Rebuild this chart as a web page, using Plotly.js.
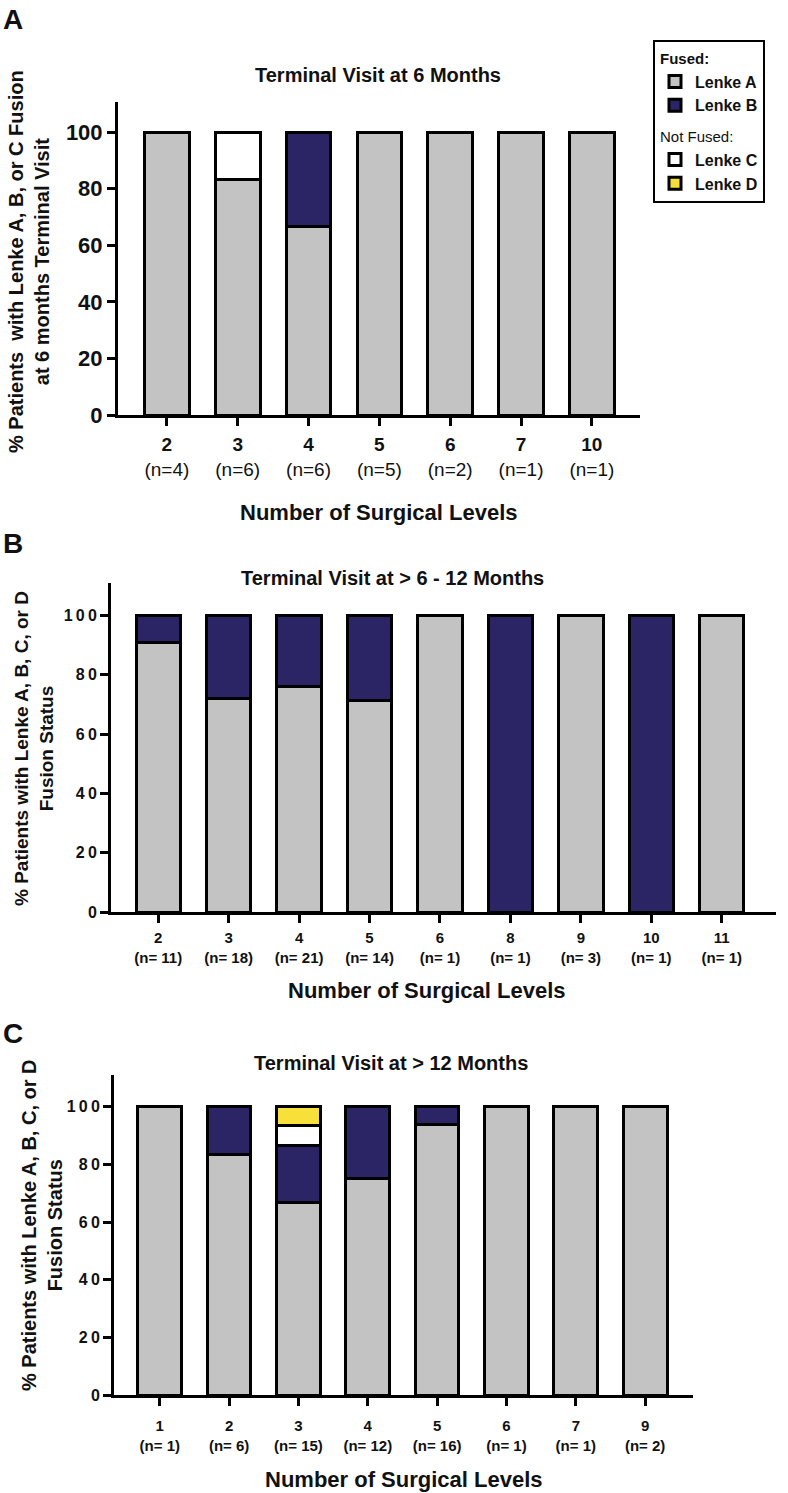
<!DOCTYPE html>
<html>
<head>
<meta charset="utf-8">
<script src="https://cdn.plot.ly/plotly-3.0.1.min.js"></script>
<style>html,body{margin:0;padding:0;background:#fff;} #chart{width:788px;height:1493px;}</style>
</head>
<body>
<div id="chart"></div>
<script>
// ---------- Data ----------
// Panel A: Terminal visit at 6 months
const levelsA = ["2", "3", "4", "5", "6", "7", "10"];
const nA = [4, 6, 6, 5, 2, 1, 1];
const lenkeA_A = [100, 83.3, 66.7, 100, 100, 100, 100];
const lenkeB_A = [0, 0, 33.3, 0, 0, 0, 0];
const lenkeC_A = [0, 16.7, 0, 0, 0, 0, 0];
const lenkeD_A = [0, 0, 0, 0, 0, 0, 0];

// Panel B: Terminal visit at > 6 - 12 months
const levelsB = ["2", "3", "4", "5", "6", "8", "9", "10", "11"];
const nB = [11, 18, 21, 14, 1, 1, 3, 1, 1];
const lenkeA_B = [90.9, 72.2, 76.2, 71.4, 100, 0, 100, 0, 100];
const lenkeB_B = [9.1, 27.8, 23.8, 28.6, 0, 100, 0, 100, 0];
const lenkeC_B = [0, 0, 0, 0, 0, 0, 0, 0, 0];
const lenkeD_B = [0, 0, 0, 0, 0, 0, 0, 0, 0];

// Panel C: Terminal visit at > 12 months
const levelsC = ["1", "2", "3", "4", "5", "6", "7", "9"];
const nC = [1, 6, 15, 12, 16, 1, 1, 2];
const lenkeA_C = [100, 83.3, 66.7, 75, 93.8, 100, 100, 100];
const lenkeB_C = [0, 16.7, 20, 25, 6.2, 0, 0, 0];
const lenkeC_C = [0, 0, 6.7, 0, 0, 0, 0, 0];
const lenkeD_C = [0, 0, 6.6, 0, 0, 0, 0, 0];

const yTicks = [0, 20, 40, 60, 80, 100];

// ---------- Styling ----------
const W = 788, H = 1493;
const FONT = "Arial, 'Liberation Sans', Helvetica, sans-serif";
const colors = {A: "#c3c3c3", B: "#2b2566", C: "#ffffff", D: "#f7e03a"};
const names = {A: "Lenke A", B: "Lenke B", C: "Lenke C", D: "Lenke D"};
const groups = {A: "fused", B: "fused", C: "notfused", D: "notfused"};
const groupTitles = {fused: "<b>Fused:</b>", notfused: "Not Fused:"};

function px2x(p) { return p / W; }
function px2y(p) { return 1 - p / H; }

function nz(arr) { return arr.map(v => (v === 0 ? null : v)); }

const traces = [];
function addPanel(levels, series, xa, ya, showLegend) {
  ["A", "B", "C", "D"].forEach(k => {
    traces.push({
      type: "bar",
      x: levels,
      y: nz(series[k]),
      name: names[k],
      xaxis: xa, yaxis: ya,
      legendgroup: groups[k],
      legendgrouptitle: {text: groupTitles[groups[k]], font: {family: FONT, size: 15, color: "#111"}},
      showlegend: showLegend,
      marker: {color: colors[k], line: {color: "#000", width: 3}},
      hoverinfo: "skip"
    });
  });
}
addPanel(levelsA, {A: lenkeA_A, B: lenkeB_A, C: lenkeC_A, D: lenkeD_A}, "x", "y", true);
addPanel(levelsB, {A: lenkeA_B, B: lenkeB_B, C: lenkeC_B, D: lenkeD_B}, "x2", "y2", false);
addPanel(levelsC, {A: lenkeA_C, B: lenkeB_C, C: lenkeC_C, D: lenkeD_C}, "x3", "y3", false);

function xAxis(levels, n, domainPx, range, boldN, size, sep, standoff) {
  return {
    domain: [px2x(domainPx[0]), px2x(domainPx[1])],
    type: "category",
    range: range,
    showline: true, linecolor: "#000", linewidth: 3,
    ticks: "outside", ticklen: 8, tickwidth: 3, tickcolor: "#000",
    ticklabelstandoff: standoff,
    tickvals: levels,
    ticktext: levels.map((l, i) => boldN ? `<b>${l}<br>(n=${sep}${n[i]})</b>` : `<b>${l}</b><br>(n=${n[i]})`),
    tickfont: {family: FONT, size: size, color: "#111"},
    showgrid: false, zeroline: false, fixedrange: true
  };
}
function yAxis(domainPx, top, size, spaced) {
  return {
    domain: [px2y(domainPx[1]), px2y(domainPx[0])],
    range: [0, top],
    showline: true, linecolor: "#000", linewidth: 3,
    ticks: "outside", ticklen: 8, tickwidth: 3, tickcolor: "#000",
    tickvals: yTicks,
    ticktext: yTicks.map(v => "<b>" + (spaced ? String(v).split("").join("\u2009") : String(v)) + "</b>"),
    tickfont: {family: FONT, size: size, color: "#111"},
    showgrid: false, zeroline: false, fixedrange: true
  };
}

const ann = [];
function text(t, xp, yp, size, opts) {
  ann.push(Object.assign({
    text: t, xref: "paper", yref: "paper", x: px2x(xp), y: px2y(yp),
    xanchor: "center", yanchor: "middle", showarrow: false,
    font: {family: FONT, size: size, color: "#111"}
  }, opts || {}));
}
// Panel letters
text("<b>A</b>", 13, 20, 28);
text("<b>B</b>", 13, 543, 28);
text("<b>C</b>", 13, 1033, 28);
// Titles
text("<b>Terminal Visit at 6 Months</b>", 378, 75, 20);
text("<b>Terminal Visit at > 6 - 12 Months</b>", 392, 578, 20);
text("<b>Terminal Visit at > 12 Months</b>", 391, 1063, 20);
// X titles
text("<b>Number of Surgical Levels</b>", 379, 512, 22);
text("<b>Number of Surgical Levels</b>", 427, 990, 22);
text("<b>Number of Surgical Levels</b>", 404, 1479, 22);
// Y titles
text("<b>% Patients  with Lenke A, B, or C Fusion<br>at 6 months Terminal Visit</b>", 29, 262, 20, {textangle: -90});
text("<b>% Patients with Lenke A, B, C, or D<br>Fusion Status</b>", 34, 749, 19, {textangle: -90});
text("<b>% Patients with Lenke A, B, C, or D<br>Fusion Status</b>", 42, 1225, 20, {textangle: -90});

const layout = {
  width: W, height: H,
  margin: {l: 0, r: 0, t: 0, b: 0, pad: 0},
  paper_bgcolor: "#fff", plot_bgcolor: "rgba(0,0,0,0)",
  barmode: "stack", bargap: 0.37,
  font: {family: FONT, color: "#111"},
  showlegend: true,
  legend: {
    x: px2x(653), y: px2y(40), xanchor: "left", yanchor: "top",
    bordercolor: "#000", borderwidth: 2, bgcolor: "#fff",
    traceorder: "grouped", tracegroupgap: 8,
    font: {family: FONT, size: 16, color: "#111", weight: "bold"},
    itemwidth: 30
  },
  xaxis: xAxis(levelsA, nA, [118, 640], [-0.69, 6.68], false, 19, "", 2),
  yaxis: yAxis([102, 415], 110.6, 22, false),
  xaxis2: xAxis(levelsB, nB, [111, 776], [-0.67, 8.77], true, 15, " ", 2),
  yaxis2: yAxis([583, 912], 111, 16, true),
  xaxis3: xAxis(levelsC, nC, [114, 693], [-0.66, 7.69], true, 15, " ", 7),
  yaxis3: yAxis([1075, 1395], 111, 16, true),
  annotations: ann
};
layout.yaxis2.anchor = "x2"; layout.xaxis2.anchor = "y2";
layout.yaxis3.anchor = "x3"; layout.xaxis3.anchor = "y3";
layout.yaxis.anchor = "x"; layout.xaxis.anchor = "y";

Plotly.newPlot("chart", traces, layout, {staticPlot: true, displayModeBar: false});
</script>
</body>
</html>
